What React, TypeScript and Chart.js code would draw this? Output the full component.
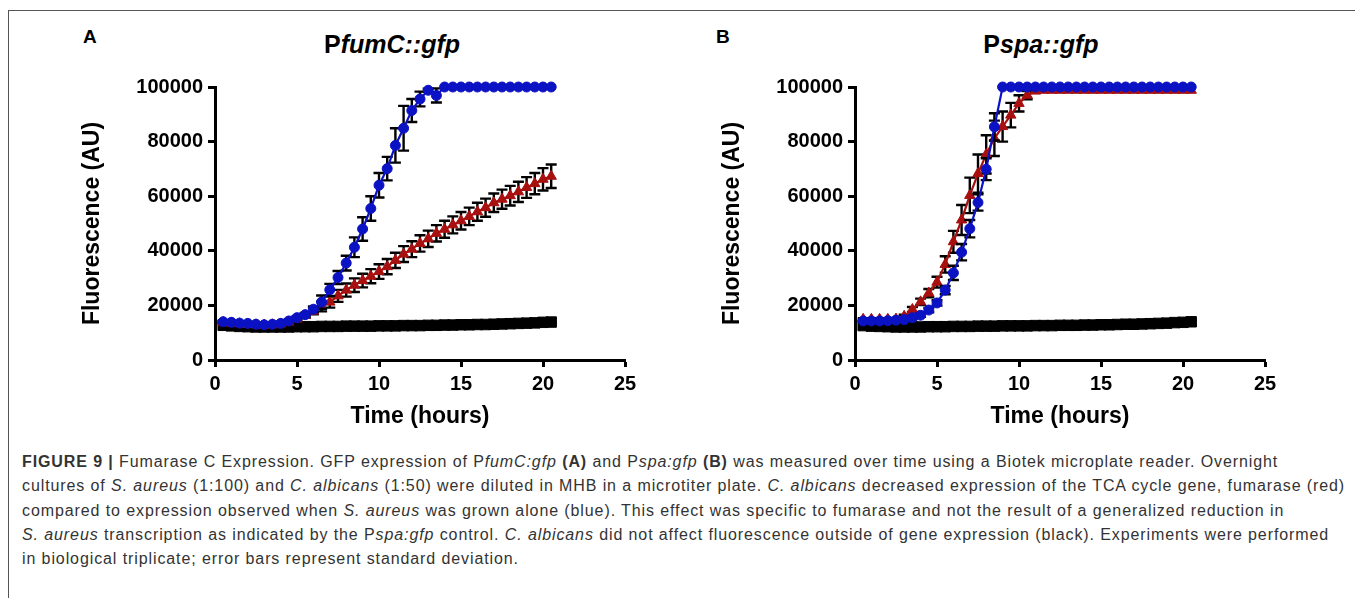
import React, { useEffect, useRef } from 'react';
import { Chart, registerables } from 'chart.js';

Chart.register(...registerables);

// ---------- data ----------
const hours = [
  0.5, 1, 1.5, 2, 2.5, 3, 3.5, 4, 4.5, 5, 5.5, 6, 6.5, 7, 7.5, 8, 8.5, 9, 9.5, 10, 10.5,
  11, 11.5, 12, 12.5, 13, 13.5, 14, 14.5, 15, 15.5, 16, 16.5, 17, 17.5, 18, 18.5, 19, 19.5, 20, 20.5,
];

const xTickValues = [0, 5, 10, 15, 20, 25];
const yTickValues = [0, 20000, 40000, 60000, 80000, 100000];

// Panel A: PfumC::gfp
const fumcAlone = [
  14000, 13800, 13500, 13400, 13100, 12900, 13100, 13400, 14300, 15500, 16600, 18600, 21200, 25700,
  30200, 35500, 41300, 48000, 55500, 64000, 70100, 78600, 84900, 91400, 95600, 98800, 96900,
  100000, 100000, 100000, 100000, 100000, 100000, 100000, 100000, 100000, 100000, 100000, 100000, 100000, 100000,
];
const fumcAloneSD = [
  500, 500, 500, 500, 500, 500, 500, 500, 500, 500, 600, 1000, 2400, 2200, 2400, 2700, 3600, 4300,
  4500, 4500, 4300, 6300, 8200, 4200, 2700, 600, 2600,
  0, 0, 0, 0, 0, 0, 0, 0, 0, 0, 0, 0, 0, 0,
];
const fumcCandida = [
  13800, 13500, 13300, 13100, 12900, 12800, 12900, 13200, 13900, 15000, 16300, 17900, 19600, 21200,
  23500, 25600, 27400, 29100, 30700, 32400, 34200, 36500, 38800, 40600, 42700, 44400, 46400, 47900,
  49500, 51000, 52600, 54300, 55800, 57600, 58900, 60200, 61600, 63200, 64600, 66200, 67300,
];
const fumcCandidaSD = [
  400, 400, 400, 400, 400, 400, 400, 400, 400, 500, 800, 1200, 1800, 2000, 2200, 2400, 2500, 2500,
  2600, 2700, 2800, 2800, 2900, 2900, 3000, 3000, 3000, 3100, 3100, 3200, 3200, 3300, 3300, 3400,
  3500, 3600, 3700, 3800, 3900, 4100, 4300,
];
const fumcControl = [
  12700, 12500, 12300, 12200, 12100, 12100, 12100, 12100, 12100, 12200, 12200, 12200, 12300, 12300,
  12300, 12400, 12400, 12400, 12400, 12500, 12500, 12500, 12600, 12600, 12600, 12700, 12700, 12800,
  12800, 12900, 12900, 13000, 13000, 13100, 13200, 13300, 13400, 13500, 13600, 13800, 13900,
];

// Panel B: Pspa::gfp
const spaAlone = [
  14300, 14300, 14300, 14400, 14600, 14800, 15500, 16400, 18300, 20900, 25600, 31900, 39500, 48100,
  57700, 69900, 85400,
  100000, 100000, 100000, 100000, 100000, 100000, 100000, 100000, 100000, 100000, 100000, 100000,
  100000, 100000, 100000, 100000, 100000, 100000, 100000, 100000, 100000, 100000, 100000, 100000,
];
const spaAloneSD = [
  400, 400, 400, 400, 400, 400, 500, 600, 800, 1000, 1500, 2600, 3000, 3200, 3000, 4000, 5000,
  0, 0, 0, 0, 0, 0, 0, 0, 0, 0, 0, 0, 0, 0, 0, 0, 0, 0, 0, 0, 0, 0, 0, 0,
];
const spaCandida = [
  14900, 14900, 14900, 14900, 15000, 16000, 18500, 21300, 24500, 28500, 35000, 43300, 51300, 60300,
  68300, 75300, 81200, 85500, 89700, 94000, 97000, 98500,
  98800, 98800, 98800, 98800, 98800, 98800, 98800, 98800, 98800, 98800, 98800, 98800, 98800, 98800,
  98800, 98800, 98800, 98800, 98800,
];
const spaCandidaSD = [
  400, 400, 400, 400, 400, 600, 900, 1200, 1500, 2000, 3000, 4000, 5500, 6500, 7000, 7000, 6500,
  5500, 4500, 3000, 1500, 500,
  0, 0, 0, 0, 0, 0, 0, 0, 0, 0, 0, 0, 0, 0, 0, 0, 0, 0, 0,
];
const spaControl = [
  12600, 12400, 12300, 12200, 12100, 12100, 12100, 12100, 12200, 12200, 12200, 12300, 12300, 12300,
  12400, 12400, 12400, 12500, 12500, 12500, 12500, 12600, 12600, 12600, 12700, 12700, 12700, 12800,
  12800, 12900, 12900, 13000, 13100, 13100, 13200, 13300, 13400, 13500, 13700, 13800, 14000,
];

const BLUE = '#0b12c4';
const RED = '#a80f0f';
const BLACK = '#000000';
const FONT = "'Liberation Sans', Arial, Helvetica, sans-serif";

// ---------- error bar plugin ----------
const errorBarPlugin = {
  id: 'errorBars',
  beforeDatasetDraw(chart: any, args: any) {
    const ds = chart.data.datasets[args.index];
    if (!ds.errors) return;
    const xs = chart.scales.x;
    const ys = chart.scales.y;
    const ctx = chart.ctx;
    ctx.save();
    ctx.strokeStyle = '#000';
    ctx.lineWidth = 2.4;
    ds.data.forEach((p: any, i: number) => {
      const e = ds.errors[i];
      if (!e) return;
      const px = xs.getPixelForValue(p.x);
      const top = ys.getPixelForValue(p.y + e);
      const bot = ys.getPixelForValue(p.y - e);
      ctx.beginPath();
      ctx.moveTo(px, top);
      ctx.lineTo(px, bot);
      ctx.moveTo(px - 5.5, top);
      ctx.lineTo(px + 5.5, top);
      ctx.moveTo(px - 5.5, bot);
      ctx.lineTo(px + 5.5, bot);
      ctx.stroke();
    });
    ctx.restore();
  },
};

const toPoints = (vals: number[]) => hours.map((h, i) => ({ x: h, y: vals[i] }));

type PanelProps = {
  left: number;
  alone: number[];
  aloneSD: number[];
  candida: number[];
  candidaSD: number[];
  control: number[];
};

function Panel({ left, alone, aloneSD, candida, candidaSD, control }: PanelProps) {
  const ref = useRef<HTMLCanvasElement | null>(null);
  useEffect(() => {
    if (!ref.current) return;
    const chart = new Chart(ref.current, {
      type: 'line',
      data: {
        datasets: [
          {
            data: toPoints(alone),
            errors: aloneSD,
            borderColor: BLUE,
            backgroundColor: BLUE,
            borderWidth: 2.2,
            pointStyle: 'circle',
            pointRadius: 5,
            pointBorderWidth: 1,
            pointBackgroundColor: BLUE,
            pointBorderColor: BLUE,
            clip: false,
          } as any,
          {
            data: toPoints(candida),
            errors: candidaSD,
            borderColor: RED,
            backgroundColor: RED,
            borderWidth: 2.2,
            pointStyle: 'triangle',
            pointRadius: 6,
            pointBorderWidth: 1,
            pointBackgroundColor: RED,
            pointBorderColor: RED,
            clip: false,
          } as any,
          {
            data: toPoints(control),
            borderColor: BLACK,
            backgroundColor: BLACK,
            borderWidth: 2,
            pointStyle: 'rect',
            pointRadius: 7.4,
            pointBorderWidth: 1,
            pointBackgroundColor: BLACK,
            pointBorderColor: BLACK,
            clip: false,
          } as any,
        ],
      },
      options: {
        animation: false,
        responsive: false,
        maintainAspectRatio: false,
        layout: { padding: { top: 27, right: 40, left: 0, bottom: 0 } },
        plugins: { legend: { display: false }, tooltip: { enabled: false }, title: { display: false } },
        elements: { line: { tension: 0 } },
        scales: {
          x: {
            type: 'linear',
            min: 0,
            max: 25,
            afterBuildTicks: (s: any) => {
              s.ticks = xTickValues.map((v) => ({ value: v }));
            },
            afterFit: (s: any) => {
              s.height = 85;
            },
            ticks: {
              color: '#000',
              padding: 5,
              font: { family: FONT, size: 20, weight: 'bold' },
              callback: (v: any) => String(v),
            },
            grid: {
              display: true,
              drawOnChartArea: false,
              drawTicks: true,
              tickLength: 7,
              tickWidth: 3,
              tickColor: '#000',
            },
            border: { display: true, width: 3, color: '#000' },
            title: {
              display: true,
              text: 'Time (hours)',
              color: '#000',
              font: { family: FONT, size: 23, weight: 'bold' },
              padding: { top: 0, bottom: 15 },
            },
          },
          y: {
            type: 'linear',
            min: 0,
            max: 100000,
            afterBuildTicks: (s: any) => {
              s.ticks = yTickValues.map((v) => ({ value: v }));
            },
            afterFit: (s: any) => {
              s.width = 160;
            },
            ticks: {
              color: '#000',
              padding: 5,
              font: { family: FONT, size: 20, weight: 'bold' },
              callback: (v: any) => String(v),
            },
            grid: {
              display: true,
              drawOnChartArea: false,
              drawTicks: true,
              tickLength: 7,
              tickWidth: 3,
              tickColor: '#000',
            },
            border: { display: true, width: 3, color: '#000' },
            title: {
              display: true,
              text: 'Fluorescence (AU)',
              color: '#000',
              font: { family: FONT, size: 23, weight: 'bold' },
              padding: { top: 24, bottom: 0 },
            },
          },
        },
      },
      plugins: [errorBarPlugin],
    } as any);
    return () => chart.destroy();
  }, []);
  return (
    <canvas
      ref={ref}
      width={610}
      height={385}
      style={{ position: 'absolute', left, top: 60, width: 610, height: 385 }}
    />
  );
}

const labelStyle: React.CSSProperties = {
  position: 'absolute',
  fontFamily: FONT,
  fontWeight: 'bold',
  fontSize: 19,
  lineHeight: 1,
  color: '#000',
  whiteSpace: 'nowrap',
};

const titleStyle: React.CSSProperties = {
  position: 'absolute',
  fontFamily: FONT,
  fontWeight: 'bold',
  fontSize: 25,
  lineHeight: 1,
  color: '#000',
  whiteSpace: 'nowrap',
  transform: 'translateX(-50%)',
};

const lineStyle: React.CSSProperties = { whiteSpace: 'nowrap', height: 24.3 };

export default function App() {
  return (
    <div style={{ position: 'absolute', left: 0, top: 0, width: 1355, height: 598, overflow: 'hidden', background: '#fff' }}>
      <div
        style={{
          position: 'absolute',
          left: 8,
          top: 10,
          right: 0,
          bottom: 0,
          borderTop: '1px solid #555',
          borderLeft: '1px solid #555',
        }}
      />
      <div style={{ ...labelStyle, left: 83, top: 27 }}>A</div>
      <div style={{ ...labelStyle, left: 716, top: 27 }}>B</div>
      <div style={{ ...titleStyle, left: 392, top: 32 }}>
        P<i>fumC::gfp</i>
      </div>
      <div style={{ ...titleStyle, left: 1041, top: 32 }}>
        P<i>spa::gfp</i>
      </div>

      <Panel left={55} alone={fumcAlone} aloneSD={fumcAloneSD} candida={fumcCandida} candidaSD={fumcCandidaSD} control={fumcControl} />
      <Panel left={695} alone={spaAlone} aloneSD={spaAloneSD} candida={spaCandida} candidaSD={spaCandidaSD} control={spaControl} />

      <div
        style={{
          position: 'absolute',
          left: 22,
          top: 450,
          fontFamily: FONT,
          fontSize: 16,
          letterSpacing: '0.9px',
          lineHeight: '24.3px',
          color: '#333',
        }}
      >
        <div style={lineStyle}>
          <b>FIGURE 9 |</b> Fumarase C Expression. GFP expression of P<i>fumC:gfp</i> <b>(A)</b> and P<i>spa:gfp</i>{' '}
          <b>(B)</b> was measured over time using a Biotek microplate reader. Overnight
        </div>
        <div style={lineStyle}>
          cultures of <i>S. aureus</i> (1:100) and <i>C. albicans</i> (1:50) were diluted in MHB in a microtiter plate.{' '}
          <i>C. albicans</i> decreased expression of the TCA cycle gene, fumarase (red)
        </div>
        <div style={lineStyle}>
          compared to expression observed when <i>S. aureus</i> was grown alone (blue). This effect was specific to
          fumarase and not the result of a generalized reduction in
        </div>
        <div style={lineStyle}>
          <i>S. aureus</i> transcription as indicated by the P<i>spa:gfp</i> control. <i>C. albicans</i> did not affect
          fluorescence outside of gene expression (black). Experiments were performed
        </div>
        <div style={lineStyle}>in biological triplicate; error bars represent standard deviation.</div>
      </div>
    </div>
  );
}
